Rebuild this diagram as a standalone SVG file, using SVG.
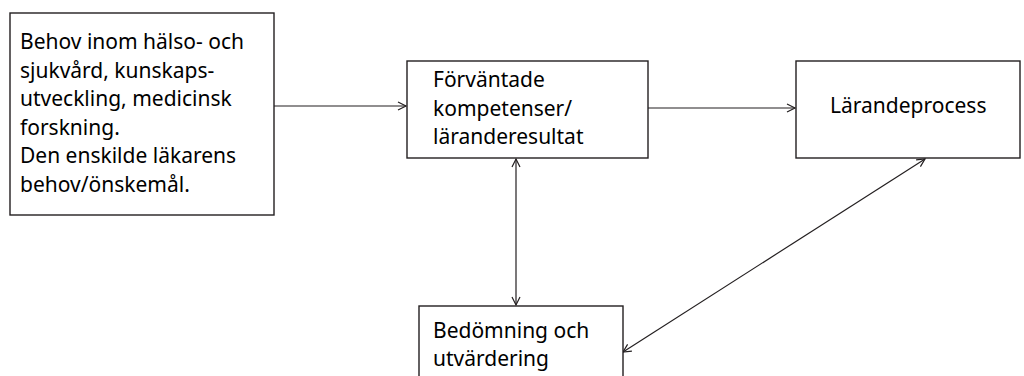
<svg xmlns="http://www.w3.org/2000/svg" width="1024" height="376" viewBox="0 0 1024 376">
<style>
.box{fill:#fff;stroke:#231f20;stroke-width:1.4}
.t{font-family:"Noto Sans","Open Sans","Liberation Sans",sans-serif;font-size:21px;fill:#000}
.c{stroke:#231f20;stroke-width:1.2;fill:none}
</style>
<defs>
<marker id="a" markerWidth="12" markerHeight="10" refX="9" refY="5" orient="auto-start-reverse" markerUnits="userSpaceOnUse">
<path d="M1,1 L9,5 L1,9" fill="none" stroke="#231f20" stroke-width="1.2"/>
</marker>
</defs>
<g id="connectors">
<line class="c" x1="274" y1="106" x2="406" y2="106" marker-end="url(#a)"/>
<line class="c" x1="648" y1="108" x2="795" y2="108" marker-end="url(#a)"/>
<line class="c" x1="516" y1="159" x2="516" y2="305" marker-start="url(#a)" marker-end="url(#a)"/>
<line class="c" x1="925" y1="159" x2="623" y2="352" marker-start="url(#a)" marker-end="url(#a)"/>
</g>
<g id="n1">
<rect class="box" x="10" y="13" width="264" height="202"/>
<text class="t" x="20" y="49">Behov inom hälso- och</text>
<text class="t" x="20" y="77.5">sjukvård, kunskaps-</text>
<text class="t" x="20" y="106">utveckling, medicinsk</text>
<text class="t" x="20" y="134.5">forskning.</text>
<text class="t" x="20" y="163">Den enskilde läkarens</text>
<text class="t" x="20" y="191.5">behov/önskemål.</text>
</g>
<g id="n2">
<rect class="box" x="407" y="61" width="241" height="97"/>
<text class="t" x="433" y="87">Förväntade</text>
<text class="t" x="433" y="115.5">kompetenser/</text>
<text class="t" x="433" y="144">läranderesultat</text>
</g>
<g id="n3">
<rect class="box" x="796" y="61" width="224" height="97"/>
<text class="t" x="830" y="113">Lärandeprocess</text>
</g>
<g id="n4">
<rect class="box" x="419" y="306" width="204" height="80"/>
<text class="t" x="433" y="338">Bedömning och</text>
<text class="t" x="433" y="366">utvärdering</text>
</g>
</svg>
